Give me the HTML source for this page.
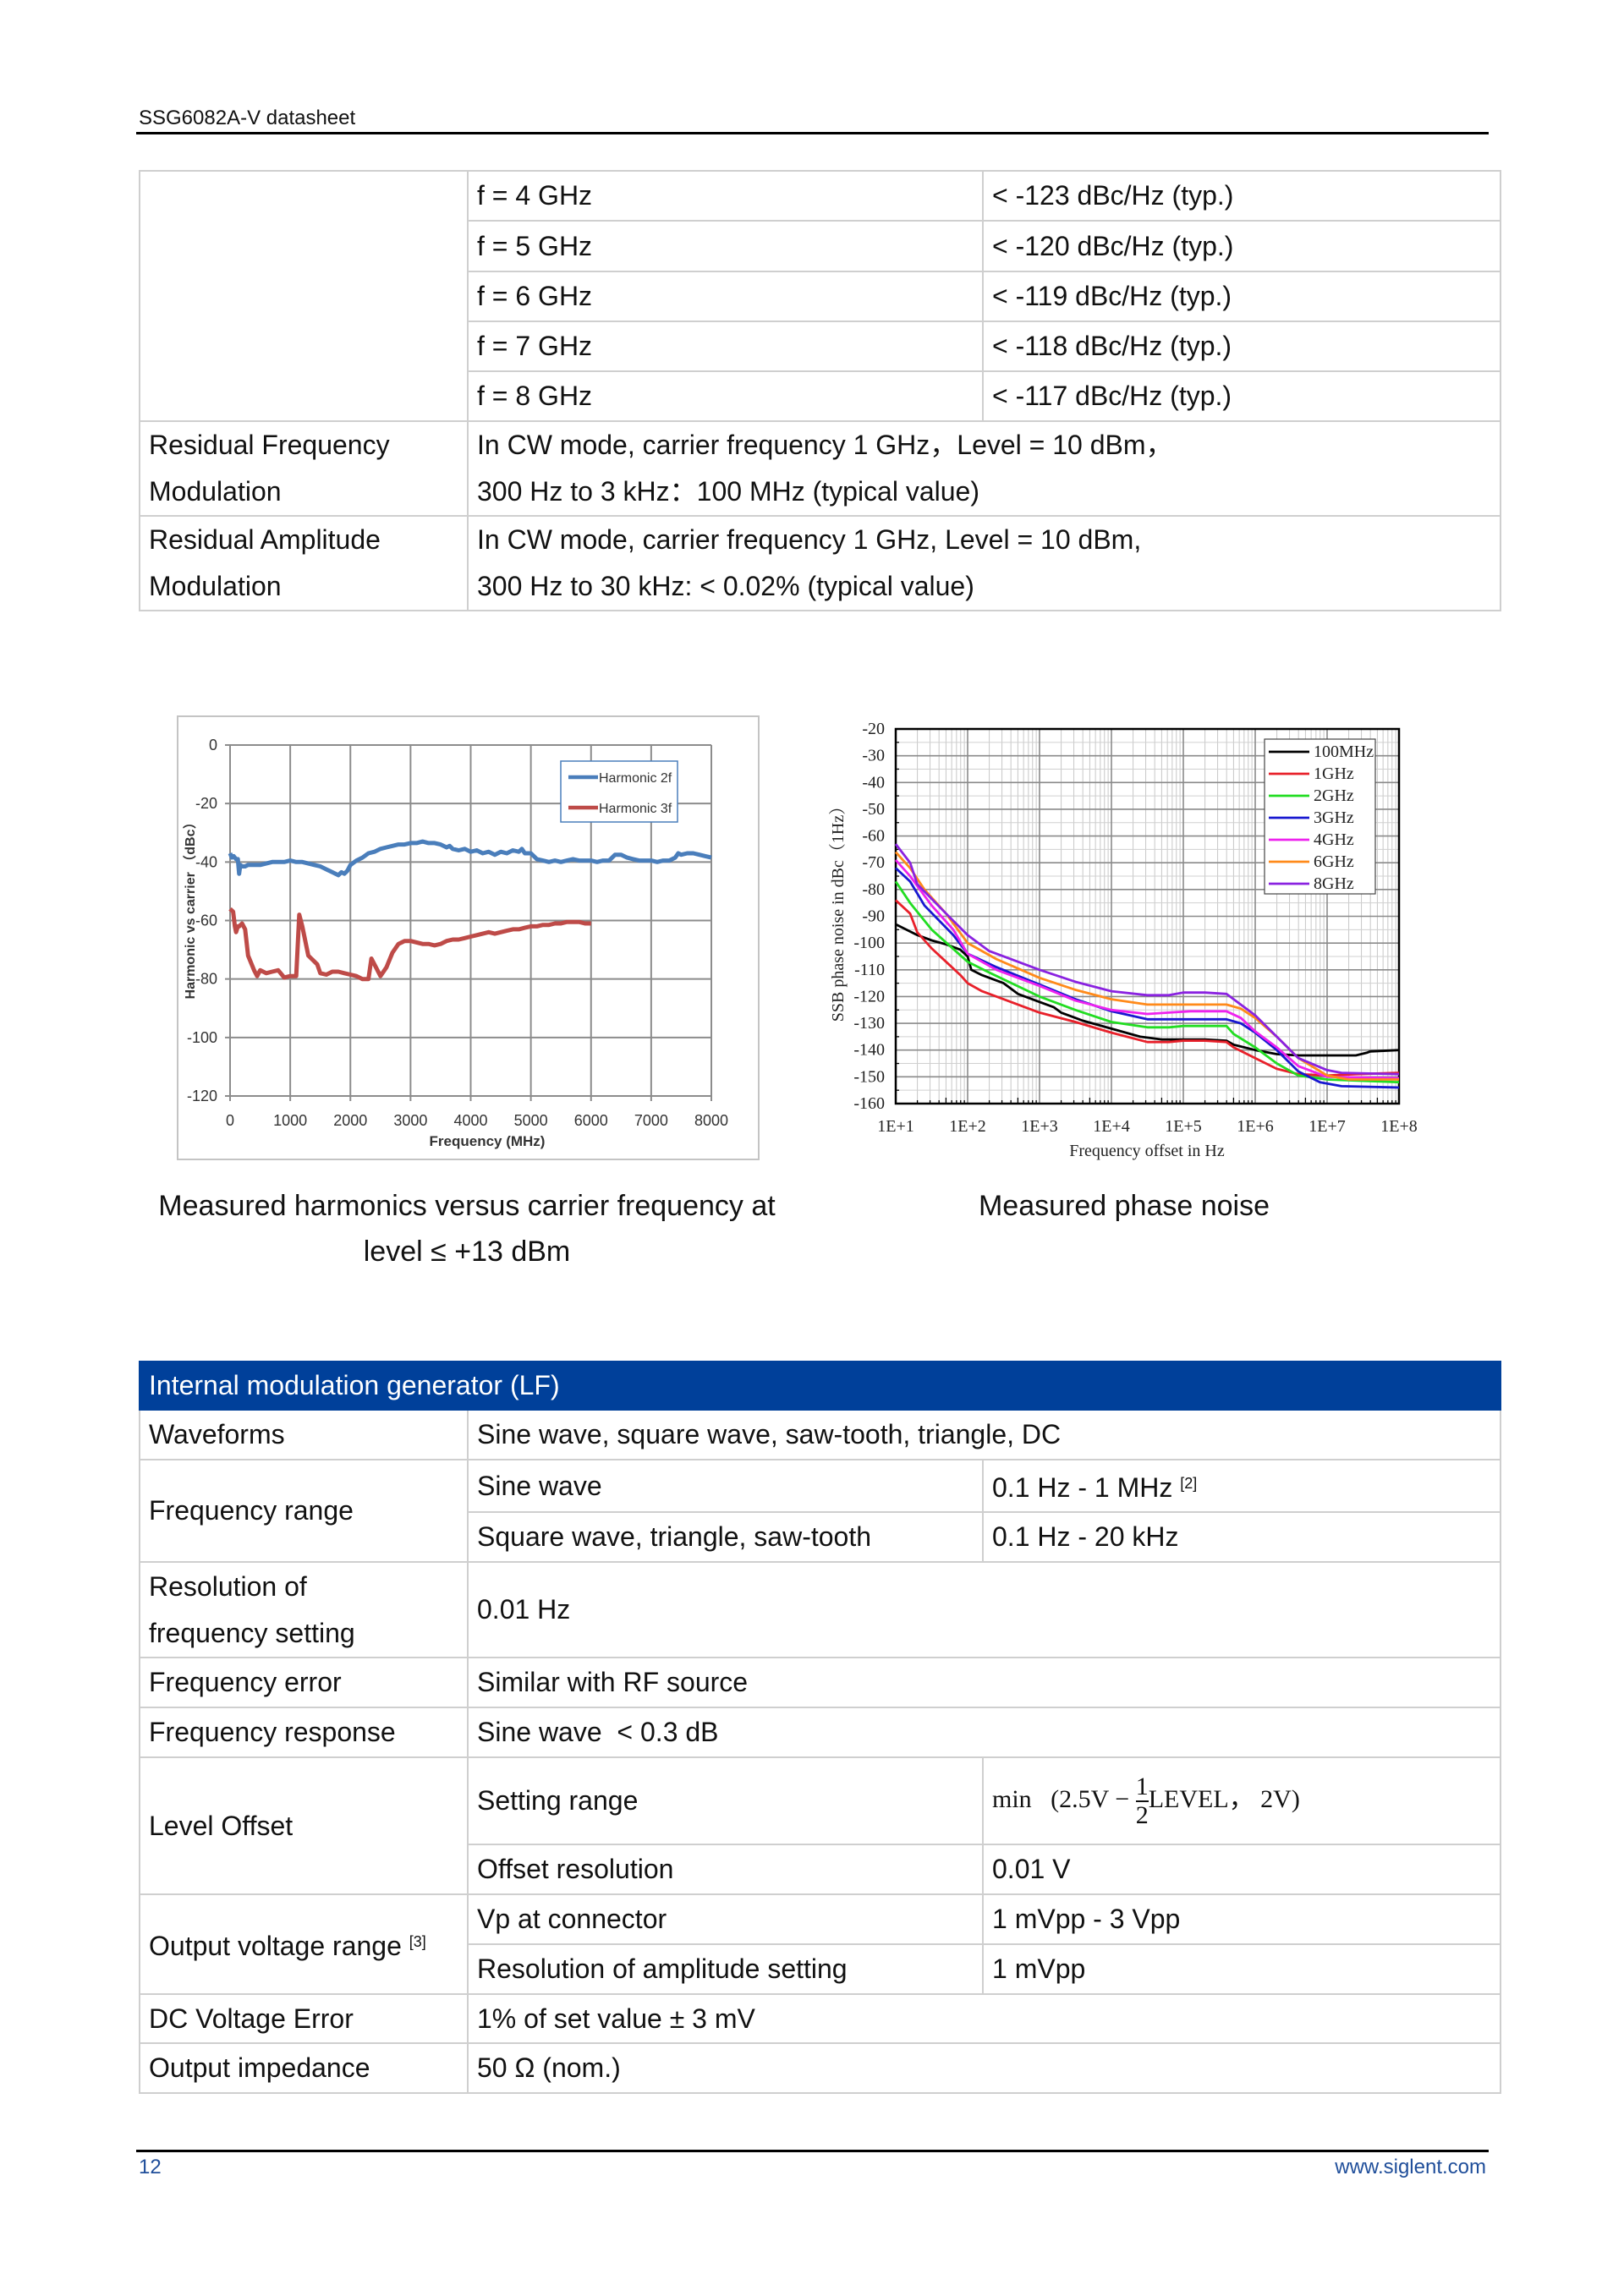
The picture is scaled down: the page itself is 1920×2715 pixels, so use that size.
<!DOCTYPE html>
<html><head><meta charset="utf-8">
<style>
body{margin:0;width:1920px;height:2715px;background:#fff;position:relative;font-family:"Liberation Sans","Noto Sans CJK SC",sans-serif;overflow:hidden}
.abs{position:absolute}
table{border-collapse:collapse;position:absolute;left:164px;width:1609px;table-layout:fixed;font-size:32px;color:#111}
td{border:2px solid #cfcfcf;padding:0 0 0 10px;vertical-align:middle;line-height:55px}
.hdr td{background:#00409a;color:#fff;border-color:#00409a}
sup{font-size:18px;vertical-align:10px}
</style></head><body>
<div class="abs" style="left:164px;top:126px;font-size:24px;color:#111">SSG6082A-V datasheet</div>
<div class="abs" style="left:161px;top:156px;width:1599px;height:3px;background:#000"></div>

<table style="top:201px">
<colgroup><col style="width:388px"><col style="width:609px"><col style="width:612px"></colgroup>
<tr style="height:59px"><td rowspan="5"></td><td>f = 4 GHz</td><td>&lt; -123 dBc/Hz (typ.)</td></tr>
<tr style="height:60px"><td>f = 5 GHz</td><td>&lt; -120 dBc/Hz (typ.)</td></tr>
<tr style="height:59px"><td>f = 6 GHz</td><td>&lt; -119 dBc/Hz (typ.)</td></tr>
<tr style="height:59px"><td>f = 7 GHz</td><td>&lt; -118 dBc/Hz (typ.)</td></tr>
<tr style="height:59px"><td>f = 8 GHz</td><td>&lt; -117 dBc/Hz (typ.)</td></tr>
<tr style="height:112px"><td>Residual Frequency<br>Modulation</td><td colspan="2">In CW mode, carrier frequency 1 GHz，Level = 10 dBm，<br>300 Hz to 3 kHz：100 MHz (typical value)</td></tr>
<tr style="height:111px"><td>Residual Amplitude<br>Modulation</td><td colspan="2">In CW mode, carrier frequency 1 GHz, Level = 10 dBm,<br>300 Hz to 30 kHz: &lt; 0.02% (typical value)</td></tr>
</table>

<div class="abs" style="left:209px;top:846px;width:685px;height:522px;border:2px solid #c4c4c4"></div>

<svg class="abs" id="charts" style="left:0;top:0" width="1920" height="2715" xmlns="http://www.w3.org/2000/svg"></svg>

<div class="abs" style="left:152px;width:800px;top:1399px;text-align:center;font-size:34px;line-height:54px;color:#111">Measured harmonics versus carrier frequency at<br>level ≤ +13 dBm</div>
<div class="abs" style="left:1029px;width:600px;top:1399px;text-align:center;font-size:34px;line-height:54px;color:#111">Measured phase noise</div>

<table style="top:1609px">
<colgroup><col style="width:388px"><col style="width:609px"><col style="width:612px"></colgroup>
<tr class="hdr" style="height:57px"><td colspan="3">Internal modulation generator (LF)</td></tr>
<tr style="height:59px"><td>Waveforms</td><td colspan="2">Sine wave, square wave, saw-tooth, triangle, DC</td></tr>
<tr style="height:60px"><td rowspan="2">Frequency range</td><td>Sine wave</td><td>0.1 Hz - 1 MHz <sup>[2]</sup></td></tr>
<tr style="height:59px"><td>Square wave, triangle, saw-tooth</td><td>0.1 Hz - 20 kHz</td></tr>
<tr style="height:113px"><td>Resolution of<br>frequency setting</td><td colspan="2">0.01 Hz</td></tr>
<tr style="height:59px"><td>Frequency error</td><td colspan="2">Similar with RF source</td></tr>
<tr style="height:59px"><td>Frequency response</td><td colspan="2">Sine wave &nbsp;&lt; 0.3 dB</td></tr>
<tr style="height:103px"><td rowspan="2">Level Offset</td><td>Setting range</td><td style="font-family:'Liberation Serif',serif;font-size:30px">min &nbsp;&nbsp;(2.5V − <span style="display:inline-block;vertical-align:middle;text-align:center;line-height:32px">1<br><span style="border-top:2px solid #111;display:block">2</span></span>LEVEL， 2V)</td></tr>
<tr style="height:59px"><td>Offset resolution</td><td>0.01 V</td></tr>
<tr style="height:59px"><td rowspan="2">Output voltage range <sup>[3]</sup></td><td>Vp at connector</td><td>1 mVpp - 3 Vpp</td></tr>
<tr style="height:59px"><td>Resolution of amplitude setting</td><td>1 mVpp</td></tr>
<tr style="height:58px"><td>DC Voltage Error</td><td colspan="2">1% of set value ± 3 mV</td></tr>
<tr style="height:59px"><td>Output impedance</td><td colspan="2">50 Ω (nom.)</td></tr>
</table>

<div class="abs" style="left:161px;top:2542px;width:1599px;height:3px;background:#000"></div>
<div class="abs" style="left:164px;top:2549px;font-size:24px;color:#1f4e9a">12</div>
<div class="abs" style="right:163px;top:2549px;font-size:24px;color:#1f4e9a">www.siglent.com</div>

<script>
// ---- Harmonics chart data ----
const h2fFreq = [0,30,60,100,130,150,170,200,250,300,400,500,600,700,800,900,1000,1100,1200,1300,1400,1500,1600,1700,1800,1850,1900,1950,2000,2100,2200,2300,2400,2500,2600,2700,2800,2900,3000,3100,3200,3300,3400,3500,3600,3650,3700,3800,3900,4000,4100,4200,4300,4400,4500,4600,4700,4800,4850,4900,5000,5100,5200,5300,5400,5500,5600,5700,5800,5900,6000,6100,6200,6300,6400,6500,6600,6700,6800,6900,7000,7100,7200,7300,7400,7450,7500,7600,7700,7800,7900,8000];
const h2fVal  = [-37,-38.5,-38,-39,-39,-44,-41,-41.5,-41.5,-41,-41,-41,-40.5,-40,-40,-40,-39.5,-40,-40,-40.5,-41,-41.5,-42.5,-43.5,-44.5,-43.5,-44,-43,-41,-39.5,-38.5,-37,-36.5,-35.5,-35,-34.5,-34,-34,-33.5,-33.5,-33,-33.5,-33.5,-34,-35,-34.5,-35.5,-36,-35.5,-36.5,-36,-37,-36.5,-37.5,-36.5,-37,-36,-36.5,-35.5,-37,-37,-39,-39.5,-40,-39.5,-40,-39.5,-39,-39.5,-39.5,-39.5,-40,-39.5,-39.5,-37.5,-37.5,-38.5,-39,-39.5,-39.5,-39.5,-40,-39.5,-39.5,-38.5,-37,-37.5,-37,-37,-37.5,-38,-38.5];
const h3fFreq = [0,50,80,100,130,150,200,250,300,400,450,500,600,700,800,900,1000,1050,1100,1150,1200,1300,1400,1450,1500,1600,1700,1800,1900,2000,2100,2200,2300,2350,2400,2500,2600,2700,2800,2900,3000,3100,3200,3300,3400,3500,3600,3700,3800,3900,4000,4100,4200,4300,4400,4500,4600,4700,4800,4900,5000,5100,5200,5300,5400,5500,5600,5700,5800,5900,6000];
const h3fVal  = [-56,-57,-62,-64,-62,-62,-61,-63,-72,-77,-79,-77,-78,-77.5,-77,-79.5,-79,-79,-79,-58,-62,-72,-74,-75,-78,-78.5,-77.5,-77.5,-78,-78.5,-79,-80,-80,-73,-75,-79,-76,-71,-68,-67,-67,-67.5,-68,-68,-68.5,-68,-67,-66.5,-66.5,-66,-65.5,-65,-64.5,-64,-64.5,-64,-63.5,-63,-63,-62.5,-62,-62,-61.5,-61.5,-61,-61,-60.5,-60.5,-60.5,-61,-61];
const hXTicks = [0,1000,2000,3000,4000,5000,6000,7000,8000];
const hYTicks = [0,-20,-40,-60,-80,-100,-120];

// ---- Phase noise chart data (x = log10 offset Hz) ----
const pnLabels = ["100MHz","1GHz","2GHz","3GHz","4GHz","6GHz","8GHz"];
const pn100MX = [1,1.3,1.5,1.7,1.9,2.0,2.05,2.2,2.5,2.7,3.0,3.2,3.3,3.6,4,4.4,4.7,5.0,5.3,5.6,5.7,6,6.3,6.6,7,7.4,7.55,7.6,8];
const pn100MY = [-93,-97,-99,-100.5,-102.5,-105,-110,-112,-115,-119,-122,-124,-126,-129,-132,-135,-136,-136,-136,-136.5,-138,-140,-141.5,-142,-142,-142,-141,-140.5,-140];
const pn1GX = [1,1.2,1.3,1.5,1.7,1.9,2.0,2.2,2.5,3.0,3.5,4,4.5,4.8,5.0,5.3,5.6,5.7,6,6.3,6.6,7,7.4,8];
const pn1GY = [-84,-89,-96,-102,-107,-112,-115,-118,-121,-126,-129.5,-133.5,-137,-137,-136.5,-136.5,-137,-139,-143,-147,-149,-149.5,-149,-148.5];
const pn2GX = [1,1.2,1.5,2.0,2.3,3.0,3.5,4,4.5,4.8,5,5.6,5.7,6,6.3,6.6,7,8];
const pn2GY = [-77,-85,-95,-107,-111,-120,-125,-129.5,-131.5,-131.5,-131,-131,-134,-139,-145,-149.5,-151,-152];
const pn3GX = [1,1.2,1.4,1.8,2.0,2.4,3.0,3.5,4,4.5,5,5.6,5.8,6,6.3,6.6,6.9,7.2,8];
const pn3GY = [-72,-77,-86,-97,-104,-109,-115.5,-121,-125.5,-128.5,-128.5,-128.5,-130,-133.5,-140,-148,-152,-153.5,-154];
const pn4GX = [1,1.2,1.5,1.8,2,2.4,3,3.5,4,4.5,4.8,5.1,5.6,5.8,6,6.3,6.6,7,8];
const pn4GY = [-69,-75,-86,-95,-104,-110,-116,-121.5,-125,-126.5,-126,-125.5,-125.5,-128,-133,-139,-146,-150,-150.5];
const pn6GX = [1,1.2,1.4,1.7,2,2.4,3,3.5,4,4.5,5,5.6,5.8,6,6.3,6.6,7,7.3,8];
const pn6GY = [-66,-72,-80,-89,-100,-106,-113,-117.5,-121,-123,-123,-123,-124.5,-128,-135,-143,-149.5,-151,-151];
const pn8GX = [1,1.2,1.3,1.7,2,2.3,2.6,3,3.5,4,4.5,4.8,5,5.3,5.6,6,6.3,6.6,7,7.2,8];
const pn8GY = [-63,-70,-78,-89,-97,-103,-106,-110,-114.5,-118,-119.5,-119.5,-118.5,-118.5,-119,-127,-135,-143,-147.5,-148.5,-149];
const pnYTicks = [-20,-30,-40,-50,-60,-70,-80,-90,-100,-110,-120,-130,-140,-150,-160];
const pnXTicks = [1,2,3,4,5,6,7,8];

const svg = document.getElementById('charts');
const NS = 'http://www.w3.org/2000/svg';
function mk(tag, attrs, parent){const e=document.createElementNS(NS,tag);for(const k in attrs)e.setAttribute(k,attrs[k]);(parent||svg).appendChild(e);return e;}

// Harmonics axes
const hx = v => 272 + v/8000*569;
const hy = v => 881 + (-v)/120*415;
const hG = mk('g',{});


hXTicks.forEach(t=>{
  const l=mk('line',{x1:hx(t),x2:hx(t),y1:hy(0),y2:hy(-120)+6,stroke:'#8c8c8c','stroke-width':2},hG);
  
  
  const tx=mk('text',{x:hx(t),y:1331,'text-anchor':'middle','font-size':18,fill:'#333','font-family':'Liberation Sans, sans-serif'},hG);
  tx.textContent=t;
  
  
});
hYTicks.forEach(t=>{
  const l=mk('line',{x1:hx(0)-6,x2:hx(8000),y1:hy(t),y2:hy(t),stroke:'#8c8c8c','stroke-width':2},hG);
  
  
  const tx=mk('text',{x:257,y:hy(t)+6,'text-anchor':'end','font-size':18,fill:'#333','font-family':'Liberation Sans, sans-serif'},hG);
  tx.textContent=t;
  
  
});
function poly(xs,ys,fx,fy,color,w,name,parent){
  const p=mk('polyline',{points:xs.map((x,i)=>fx(x).toFixed(1)+','+fy(ys[i]).toFixed(1)).join(' '),fill:'none',stroke:color,'stroke-width':w,'stroke-linejoin':'round'},parent);
  
  
}
poly(h2fFreq,h2fVal,hx,hy,'#4a7ebb',5,'harmonic-2f-line',hG);
poly(h3fFreq,h3fVal,hx,hy,'#be4b48',5,'harmonic-3f-line',hG);
let t1=mk('text',{x:576,y:1355,'text-anchor':'middle','font-size':17,'font-weight':'bold',fill:'#333','font-family':'Liberation Sans, sans-serif'},hG);
t1.textContent='Frequency (MHz)';


let t2=mk('text',{x:0,y:0,'text-anchor':'middle','font-size':16,'font-weight':'bold',fill:'#333','font-family':'Liberation Sans, Noto Sans CJK SC, sans-serif',transform:'translate(230,1073) rotate(-90)'},hG);
t2.textContent='Harmonic vs carrier （dBc）';


let lb=mk('rect',{x:663,y:900,width:138,height:72,fill:'#fff',stroke:'#4a7ebb','stroke-width':1.5},hG);


[['Harmonic 2f','#4a7ebb',919],['Harmonic 3f','#be4b48',955]].forEach(([n,c,y])=>{
  const g=mk('g',{},hG);
  
  
  mk('line',{x1:672,x2:707,y1:y,y2:y,stroke:c,'stroke-width':4.5},g);
  const t=mk('text',{x:708,y:y+6,'font-size':16,fill:'#333','font-family':'Liberation Sans, sans-serif'},g);
  t.textContent=n;
});

// Phase noise axes
const px = lg => 1059 + (lg-1)/7*595;
const py = v => 862 + (-20 - v)/140*443;
const pG = mk('g',{});


for(let d=1; d<8; d++){
  for(let m=2;m<=9;m++){
    const lx=px(d+Math.log10(m));
    mk('line',{x1:lx,x2:lx,y1:py(-20),y2:py(-160),stroke:'#c8c8c8','stroke-width':1},pG);
    mk('line',{x1:lx,x2:lx,y1:py(-160),y2:py(-160)-(m===5?7:4),stroke:'#000','stroke-width':1.3},pG);
  }
}
for(let v=-25; v>-160; v-=10){
  mk('line',{x1:px(1),x2:px(8),y1:py(v),y2:py(v),stroke:'#d0d0d0','stroke-width':1},pG);
  mk('line',{x1:px(1),x2:px(1)+4,y1:py(v),y2:py(v),stroke:'#000','stroke-width':1.3},pG);
}
pnXTicks.forEach(t=>{
  const l=mk('line',{x1:px(t),x2:px(t),y1:py(-20),y2:py(-160),stroke:'#8a8a8a','stroke-width':1.6},pG);
  
  
  const tx=mk('text',{x:px(t),y:1338,'text-anchor':'middle','font-size':20,fill:'#222','font-family':'Liberation Serif, serif'},pG);
  tx.textContent='1E+'+t;
  
  
});
pnYTicks.forEach(t=>{
  const l=mk('line',{x1:px(1),x2:px(8),y1:py(t),y2:py(t),stroke:'#8a8a8a','stroke-width':1.6},pG);
  
  
  const tx=mk('text',{x:1046,y:py(t)+6,'text-anchor':'end','font-size':20,fill:'#222','font-family':'Liberation Serif, serif'},pG);
  tx.textContent=t;
  
  
});
mk('rect',{x:px(1),y:py(-20),width:px(8)-px(1),height:py(-160)-py(-20),fill:'none',stroke:'#000','stroke-width':2.5},pG);
const pnColors=['#000000','#e8202a','#22dd22','#1818d0','#ee22ee','#ff8a1a','#8a22e0'];
const pnXs=[pn100MX,pn1GX,pn2GX,pn3GX,pn4GX,pn6GX,pn8GX];
const pnYs=[pn100MY,pn1GY,pn2GY,pn3GY,pn4GY,pn6GY,pn8GY];
pnXs.forEach((xs,i)=>poly(xs,pnYs[i],px,py,pnColors[i],2.8,'phase-noise-'+pnLabels[i].toLowerCase()+'-line',pG));
let lb2=mk('rect',{x:1495,y:874,width:131,height:183,fill:'#fff',stroke:'#444','stroke-width':1.2},pG);


pnLabels.forEach((n,i)=>{
  const y=889+i*26;
  const g=mk('g',{},pG);
  
  
  mk('line',{x1:1500,x2:1548,y1:y,y2:y,stroke:pnColors[i],'stroke-width':2.8},g);
  const t=mk('text',{x:1553,y:y+6,'font-size':20,fill:'#222','font-family':'Liberation Serif, serif'},g);
  t.textContent=n;
});
let t3=mk('text',{x:1356,y:1367,'text-anchor':'middle','font-size':20,fill:'#222','font-family':'Liberation Serif, serif'},pG);
t3.textContent='Frequency offset in Hz';


let t4=mk('text',{x:0,y:0,'text-anchor':'middle','font-size':20,fill:'#222','font-family':'Liberation Serif, Noto Serif CJK SC, serif',transform:'translate(997,1076) rotate(-90)'},pG);
t4.textContent='SSB phase noise in dBc（1Hz）';


</script>
</body></html>
